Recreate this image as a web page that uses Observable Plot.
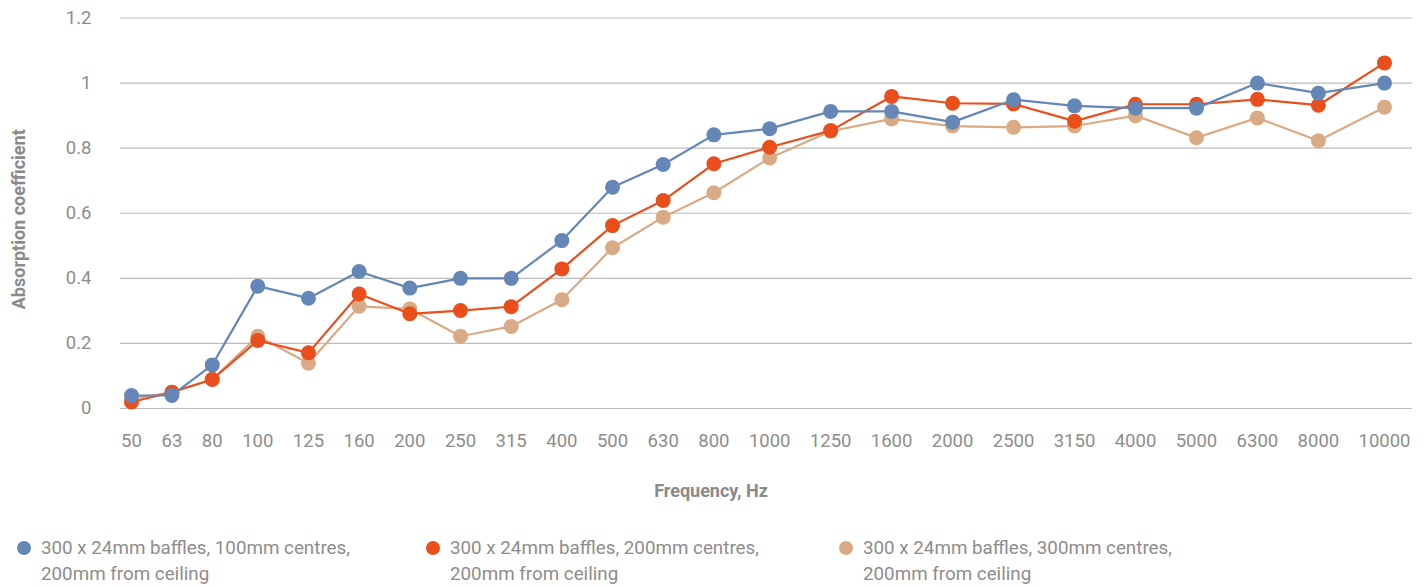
<!DOCTYPE html>
<html><head><meta charset="utf-8">
<script src="https://cdn.jsdelivr.net/npm/d3@7"></script>
<script src="https://cdn.jsdelivr.net/npm/@observablehq/plot@0.6"></script>
<style>
body{margin:0;background:#fff;font-family:Roboto, sans-serif;}
#wrap{position:relative;width:1426px;height:587px;overflow:hidden;}
#legend{position:absolute;left:0;top:535px;width:1426px;height:52px;}
.item{position:absolute;top:0;display:flex;align-items:flex-start;color:#8d8d8d;font-size:18.8px;line-height:26px;}
.sw{width:14px;height:14px;border-radius:50%;margin-top:6px;margin-right:10px;flex:none;}
</style></head><body>
<div id="wrap"><div id="chart"></div><div id="legend"></div></div>
<script>
const frequencies = ["50","63","80","100","125","160","200","250","315","400","500","630","800","1000","1250","1600","2000","2500","3150","4000","5000","6300","8000","10000"];
const centres100 = [0.04,0.04,0.134,0.376,0.339,0.421,0.370,0.40,0.40,0.516,0.68,0.75,0.841,0.86,0.913,0.913,0.88,0.949,0.93,0.923,0.923,1.0,0.969,1.0];
const centres200 = [0.02,0.05,0.089,0.209,0.171,0.352,0.291,0.301,0.313,0.429,0.562,0.639,0.752,0.803,0.854,0.959,0.938,0.936,0.883,0.935,0.935,0.95,0.932,1.062];
const centres300 = [0.03,0.05,0.09,0.222,0.139,0.314,0.306,0.222,0.252,0.334,0.494,0.588,0.663,0.770,0.852,0.89,0.868,0.864,0.868,0.90,0.832,0.893,0.823,0.926];
const seriesNames = [
  ["300 x 24mm baffles, 100mm centres,","200mm from ceiling"],
  ["300 x 24mm baffles, 200mm centres,","200mm from ceiling"],
  ["300 x 24mm baffles, 300mm centres,","200mm from ceiling"]
];
const seriesColors = ["#6487b7","#e94e1b","#d9aa84"];
const yTicks = [0,0.2,0.4,0.6,0.8,1,1.2];
const xTitle = "Frequency, Hz";
const yTitle = "Absorption coefficient";

// category positions follow the label widths (labels separated by a constant gap)
const ctx = document.createElement("canvas").getContext("2d");
ctx.font = "18.5px Roboto";
const widths = frequencies.map(f => ctx.measureText(f).width);
const gap = 20;
const pos = [0];
for (let i = 1; i < widths.length; i++) pos.push(pos[i-1] + (widths[i-1] + widths[i]) / 2 + gap);

const allSeries = [centres100, centres200, centres300];
const rows = allSeries.map((vals, s) => vals.map((v, i) => ({pos: pos[i], value: v, series: s})));

const seriesMarks = [];
for (const s of [2, 1, 0]) {
  seriesMarks.push(Plot.line(rows[s], {x: "pos", y: "value", stroke: seriesColors[s], strokeWidth: 2.2}));
  seriesMarks.push(Plot.dot(rows[s], {x: "pos", y: "value", fill: seriesColors[s], r: 7.5}));
}

const chart = Plot.plot({
  width: 1426, height: 515,
  marginLeft: 131, marginRight: 42, marginTop: 17.5, marginBottom: 107,
  style: {fontFamily: "Roboto, sans-serif", fontSize: "18.5px", color: "#8d8d8d", background: "#fff", overflow: "visible"},
  x: {type: "linear", domain: [pos[0], pos[pos.length-1]], axis: null},
  y: {domain: [0, 1.2], axis: null},
  marks: [
    Plot.ruleY(yTicks, {stroke: "#bdbdbd", strokeWidth: 1.2, insetLeft: -11, insetRight: -28}),
    Plot.text(yTicks, {y: d => d, text: d => String(d), frameAnchor: "left", textAnchor: "end", dx: -40, fontSize: 18.5, fill: "#8d8d8d"}),
    Plot.text(frequencies, {x: (d, i) => pos[i], text: d => d, frameAnchor: "bottom", dy: 38, fontSize: 18.5, fill: "#8d8d8d"}),
    Plot.text([xTitle], {text: d => d, frameAnchor: "bottom", textAnchor: "middle", dx: -47, dy: 88, fontSize: 18, fontWeight: "bold", fill: "#8a8a8a"}),
    Plot.text([yTitle], {text: d => d, frameAnchor: "left", textAnchor: "middle", rotate: -90, dx: -112, dy: 6, fontSize: 18, fontWeight: "bold", fill: "#8a8a8a"}),
    ...seriesMarks
  ]
});
document.getElementById("chart").appendChild(chart);

const legend = document.getElementById("legend");
const lefts = [17, 426, 839];
seriesNames.forEach((lines, s) => {
  const it = document.createElement("div");
  it.className = "item";
  it.style.left = lefts[s] + "px";
  const sw = document.createElement("div");
  sw.className = "sw";
  sw.style.background = seriesColors[s];
  const tx = document.createElement("div");
  tx.innerHTML = lines.map(l => `<div>${l}</div>`).join("");
  it.appendChild(sw); it.appendChild(tx);
  legend.appendChild(it);
});
</script>
</body></html>
